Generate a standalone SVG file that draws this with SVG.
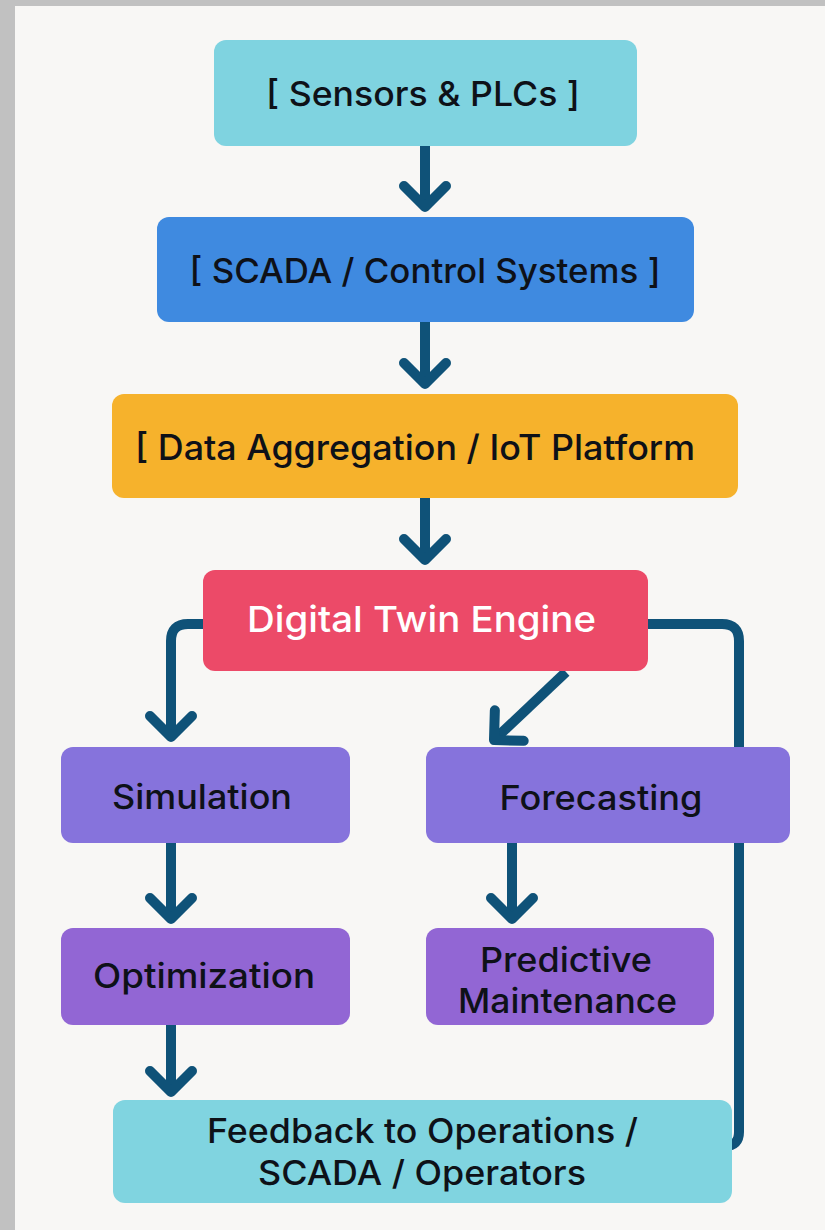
<svg xmlns="http://www.w3.org/2000/svg" width="825" height="1230" viewBox="0 0 825 1230">
<defs>
<style>
.t{font-family:Inter,"Noto Sans","Liberation Sans",sans-serif;font-size:34px;font-weight:500;fill:#0e1118;text-anchor:middle}
.w{fill:#ffffff}
.c{fill:none;stroke:#0f5278;stroke-width:10;stroke-linejoin:round}
</style>
<marker id="ah" markerUnits="userSpaceOnUse" viewBox="-30 -30 60 60" markerWidth="60" markerHeight="60" refX="0" refY="0" orient="auto" overflow="visible">
<path d="M-21,-21 L0,0 L-21,21" fill="none" stroke="#0f5278" stroke-width="10" stroke-linecap="round" stroke-linejoin="round"/>
</marker>
</defs>
<rect x="0" y="0" width="825" height="1230" fill="#c1c1c1"/>
<rect x="15" y="6" width="810" height="1224" fill="#f8f7f5"/>

<g id="connectors">
<path class="c" d="M425,146 V207" marker-end="url(#ah)"/>
<path class="c" d="M425,322 V384" marker-end="url(#ah)"/>
<path class="c" d="M425,498 V560" marker-end="url(#ah)"/>
<path class="c" d="M210,624 H188 Q171,624 171,641 V737" marker-end="url(#ah)"/>
<path class="c" d="M566,672 L494,740" marker-end="url(#ah)"/>
<path class="c" d="M640,624 H722 Q739,624 739,641 V1132 Q739,1146 725,1146"/>
<path class="c" d="M171,843 V919" marker-end="url(#ah)"/>
<path class="c" d="M171,1025 V1092" marker-end="url(#ah)"/>
<path class="c" d="M512,843 V919" marker-end="url(#ah)"/>
</g>

<g id="sensors">
<rect x="214" y="40" width="423" height="106" rx="12" fill="#7fd3e0"/>
<text class="t" x="423" y="106" textLength="314" lengthAdjust="spacingAndGlyphs">[ Sensors &amp; PLCs ]</text>
</g>
<g id="scada">
<rect x="157" y="217" width="537" height="105" rx="12" fill="#3f8ae0"/>
<text class="t" x="425" y="283" textLength="471" lengthAdjust="spacingAndGlyphs">[ SCADA / Control Systems ]</text>
</g>
<g id="data-aggregation">
<rect x="112" y="394" width="626" height="104" rx="12" fill="#f6b22c"/>
<text class="t" x="135" y="460" style="text-anchor:start;font-size:35px" textLength="560" lengthAdjust="spacingAndGlyphs">[ Data Aggregation / IoT Platform</text>
</g>
<g id="digital-twin">
<rect x="203" y="570" width="445" height="101" rx="12" fill="#ec4a68"/>
<text class="t w" x="421.5" y="632" style="font-size:36px" textLength="349" lengthAdjust="spacingAndGlyphs">Digital Twin Engine</text>
</g>
<g id="simulation">
<rect x="61" y="747" width="289" height="96" rx="12" fill="#8673dc"/>
<text class="t" x="202" y="809" textLength="180" lengthAdjust="spacingAndGlyphs">Simulation</text>
</g>
<g id="forecasting">
<rect x="426" y="747" width="364" height="96" rx="12" fill="#8673dc"/>
<text class="t" x="601" y="810" textLength="203" lengthAdjust="spacingAndGlyphs">Forecasting</text>
</g>
<g id="optimization">
<rect x="61" y="928" width="289" height="97" rx="12" fill="#9266d4"/>
<text class="t" x="204" y="988" textLength="222" lengthAdjust="spacingAndGlyphs">Optimization</text>
</g>
<g id="predictive">
<rect x="426" y="928" width="288" height="97" rx="12" fill="#9266d4"/>
<text class="t" x="566" y="972" textLength="172" lengthAdjust="spacingAndGlyphs">Predictive</text>
<text class="t" x="567.5" y="1013" textLength="219" lengthAdjust="spacingAndGlyphs">Maintenance</text>
</g>
<g id="feedback">
<rect x="113" y="1100" width="619" height="103" rx="12" fill="#80d4e0"/>
<text class="t" x="422.5" y="1143" textLength="431" lengthAdjust="spacingAndGlyphs">Feedback to Operations /</text>
<text class="t" x="422" y="1185" textLength="328" lengthAdjust="spacingAndGlyphs">SCADA / Operators</text>
</g>
</svg>
